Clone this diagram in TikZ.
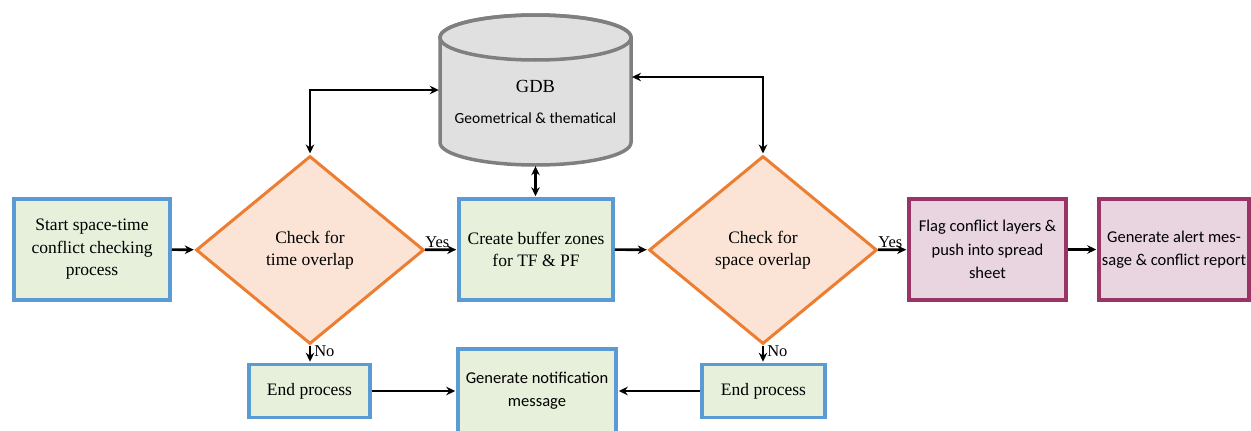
\documentclass[tikz,border=0pt]{standalone}
\usepackage{fontspec}
\setmainfont{Liberation Serif}
\newfontfamily\calibri{Carlito}
\usetikzlibrary{shapes.geometric,arrows.meta,calc}
\definecolor{bluebd}{HTML}{5B9BD5}
\definecolor{greenfl}{HTML}{E6F0DA}
\definecolor{orangebd}{HTML}{ED7D31}
\definecolor{peachfl}{HTML}{FBE4D5}
\definecolor{purplebd}{HTML}{9A3467}
\definecolor{purplefl}{HTML}{E8D5E0}
\definecolor{graybd}{HTML}{7F7F7F}
\definecolor{grayfl}{HTML}{E0E0E0}
\begin{document}
\begin{tikzpicture}[x=1pt,y=-1pt,
  box/.style={draw=bluebd,fill=greenfl,line width=3.5pt,inner sep=2pt,align=center,
    minimum height=101pt,font=\fontsize{17.5}{22.5}\selectfont},
  endbox/.style={box,minimum height=53pt},
  pbox/.style={draw=purplebd,fill=purplefl,line width=3.5pt,inner sep=2pt,align=center,
    minimum height=101pt,font=\calibri\fontsize{16.5}{23.5}\selectfont},
  dec/.style={diamond,draw=orangebd,fill=peachfl,line width=3pt,minimum width=228pt,
    minimum height=188pt,inner sep=0pt,align=center,font=\fontsize{17.5}{22.5}\selectfont},
  arr/.style={-{Stealth[length=9pt,width=8.5pt]},line width=2.6pt,shorten >=1pt},
  darr/.style={{Stealth[length=9pt,width=8.5pt]}-{Stealth[length=9pt,width=8.5pt]},line width=2.6pt,shorten >=1pt,shorten <=1pt},
  lbl/.style={font=\fontsize{16.5}{18}\selectfont,inner sep=1pt}
]
\useasboundingbox (0,0) rectangle (1251,431);

% GDB cylinder
\node[minimum width=191pt,minimum height=150pt,inner sep=0pt] (gdb) at (535.5,90) {};
\coordinate (gdbr) at (631,77);
\path[draw=graybd,fill=grayfl,line width=3.5pt]
  (440,37.5) -- (440,142.5) arc[start angle=180,end angle=360,x radius=95.5pt,y radius=22.5pt]
  -- (631,37.5) arc[start angle=0,end angle=180,x radius=95.5pt,y radius=22.5pt] -- cycle;
\draw[graybd,line width=3.5pt] (535.5,37.5) ellipse[x radius=95.5pt,y radius=22.5pt];
\node[font=\fontsize{18.5}{20}\selectfont] (gdbt) at (535.5,86) {GDB};
\node[font=\calibri\fontsize{15.5}{18}\selectfont] (gdbs) at (535.5,118) {Geometrical \& thematical};

% main row
\node[box,minimum width=156pt] (start) at (92,249.5) {Start space-time\\conflict checking\\process};
\node[dec] (d1) at (310,250) {Check for\\time overlap};
\node[box,minimum width=154pt] (create) at (536,249.5) {Create buffer zones\\for TF \& PF};
\node[dec] (d2) at (763,250) {Check for\\space overlap};
\node[pbox,minimum width=157pt] (flag) at (987.5,249.5) {Flag conflict layers \&\\push into spread\\sheet};
\node[pbox,minimum width=150pt] (alert) at (1174,249.5) {Generate alert mes-\\sage \& conflict report};

% bottom row
\node[endbox,minimum width=121pt] (end1) at (309.5,391) {End process};
\node[box,minimum width=158pt,minimum height=84pt,font=\calibri\fontsize{16.5}{23}\selectfont] (gen) at (537,391) {Generate notification\\message};
\node[endbox,minimum width=123pt] (end2) at (763.5,391) {End process};

% connectors
\draw[arr] (start) -- (d1);
\draw[arr] (d1) -- node[lbl,above,pos=0.38] {Yes} (create);
\draw[arr] (create) -- (d2);
\draw[arr] (d2) -- node[lbl,above,pos=0.42] {Yes} (flag);
\draw[arr] (flag) -- (alert);
\draw[arr] (d1.south) -- node[lbl,right=2pt,pos=0.35] {No} (end1.north -| d1.south);
\draw[arr] (d2.south) -- node[lbl,right=2pt,pos=0.35] {No} (end2.north -| d2.south);
\draw[arr] (end1) -- (gen);
\draw[arr] (end2) -- (gen);
\draw[darr] (gdb.south) -- (create.north -| gdb.south);
\draw[darr] (d1.north) |- (gdb.west);
\draw[darr] (d2.north) |- (gdbr);
\end{tikzpicture}
\end{document}
